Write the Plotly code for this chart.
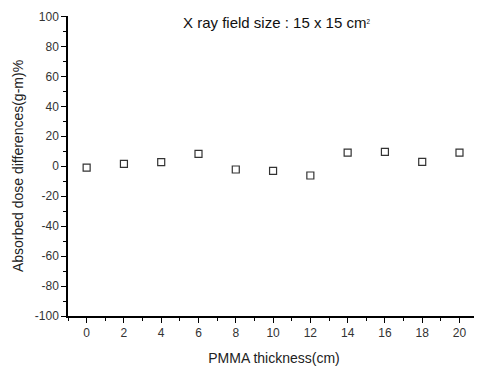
import plotly.graph_objects as go

thickness = [0, 2, 4, 6, 8, 10, 12, 14, 16, 18, 20]
dose_diff = [-0.9, 1.6, 2.7, 8.3, -2.2, -3.1, -6.2, 9.1, 9.6, 2.9, 9.1]
x_ticks = [0, 2, 4, 6, 8, 10, 12, 14, 16, 18, 20]
y_ticks = [-100, -80, -60, -40, -20, 0, 20, 40, 60, 80, 100]
y_tick_text = [str(v) for v in y_ticks]

fig = go.Figure()
fig.add_trace(go.Scatter(
    x=thickness, y=dose_diff, mode="markers",
    marker=dict(symbol="square-open", size=7, color="#333333", line=dict(width=1.2)),
    showlegend=False,
))

axis_common = dict(
    showgrid=False, zeroline=False, showline=True, linecolor="black", linewidth=1.5,
    ticks="outside", ticklen=5, tickwidth=1.3, tickcolor="black",
    ticklabeloverflow="allow",
    tickfont=dict(family="Arial, Liberation Sans", size=12, color="#333333"),
)

fig.update_layout(
    width=474, height=358,
    margin=dict(l=60, r=2, t=6, b=50),
    paper_bgcolor="white", plot_bgcolor="white",
    xaxis=dict(range=[-1, 21.1], tickvals=x_ticks,
               minor=dict(ticks="outside", ticklen=3, tickwidth=1.2, tickcolor="black", dtick=1, tick0=1),
               title=dict(text="PMMA thickness(cm)", standoff=14,
                          font=dict(family="Arial, Liberation Sans", size=14, color="#222222")),
               **axis_common),
    yaxis=dict(range=[-100, 100.3], tickvals=y_ticks, ticktext=y_tick_text,
               minor=dict(ticks="outside", ticklen=3, tickwidth=1.2, tickcolor="black", dtick=10),
               title=dict(text="Absorbed dose differences(g-m)%", standoff=8,
                          font=dict(family="Arial, Liberation Sans", size=14, color="#222222")),
               **axis_common),
    annotations=[dict(text="X ray field size : 15 x 15 cm<span style='font-size:9px'><sup>2</sup></span>",
                      xref="x", yref="y",
                      x=10.2, y=96, showarrow=False, yanchor="middle",
                      font=dict(family="Arial, Liberation Sans", size=15, color="#111111"))],
)

fig.write_html("out.html")
